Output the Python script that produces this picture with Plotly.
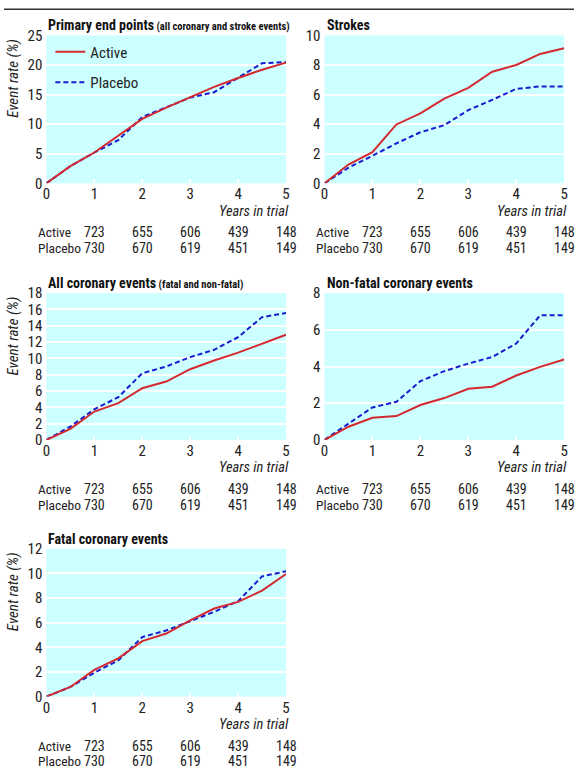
import plotly.graph_objects as go

W, H = 578, 772

years = [0, 0.5, 1, 1.5, 2, 2.5, 3, 3.5, 4, 4.5, 5]

primary_active = [0, 2.9, 5.2, 8.0, 10.9, 12.8, 14.6, 16.3, 17.8, 19.2, 20.4]
primary_placebo = [0, 2.9, 5.2, 7.3, 11.2, 12.8, 14.5, 15.4, 17.9, 20.3, 20.5]

stroke_active = [0, 1.27, 2.1, 3.98, 4.73, 5.73, 6.45, 7.55, 8.0, 8.75, 9.14]
stroke_placebo = [0, 1.05, 1.86, 2.7, 3.45, 3.93, 4.95, 5.64, 6.39, 6.55, 6.55]

allcor_active = [0, 1.35, 3.48, 4.5, 6.34, 7.16, 8.67, 9.74, 10.7, 11.8, 12.9]
allcor_placebo = [0, 1.64, 3.76, 5.24, 8.18, 9.0, 10.15, 11.05, 12.6, 15.06, 15.55]

nonfatal_active = [0, 0.72, 1.21, 1.3, 1.9, 2.28, 2.79, 2.9, 3.51, 3.98, 4.38]
nonfatal_placebo = [0, 0.9, 1.77, 2.08, 3.2, 3.75, 4.16, 4.52, 5.25, 6.79, 6.79]

fatal_active = [0, 0.78, 2.16, 3.1, 4.5, 5.12, 6.18, 7.15, 7.69, 8.6, 9.95]
fatal_placebo = [0, 0.78, 1.94, 2.94, 4.83, 5.37, 6.12, 6.88, 7.74, 9.76, 10.17]

risk_years = [1, 2, 3, 4, 5]
active_n = [723, 655, 606, 439, 148]
placebo_n = [730, 670, 619, 451, 149]

x_ticks = [0, 1, 2, 3, 4, 5]

FONT = "Roboto Condensed, Liberation Sans Narrow, DejaVu Sans, sans-serif"
RED = "#d42a2f"
BLUE = "#1a1ad0"
BG = "#ccffff"

def F(size, color="#222"):
    return dict(family=FONT, size=size, color=color)

panels = [
    ("Primary end points", " (all coronary and stroke events)", primary_active, primary_placebo, 25, 5, (43, 286, 35, 183), True),
    ("Strokes", "", stroke_active, stroke_placebo, 10, 2, (325, 568, 35, 183), False),
    ("All coronary events", " (fatal and non-fatal)", allcor_active, allcor_placebo, 18, 2, (43, 286, 293, 440), True),
    ("Non-fatal coronary events", "", nonfatal_active, nonfatal_placebo, 8, 2, (325, 568, 293, 440), False),
    ("Fatal coronary events", "", fatal_active, fatal_placebo, 12, 2, (43, 286, 549, 697), True),
]

fig = go.Figure()
annotations = []
layout = {}

# the photographed page shows the figure with a small vertical inset; map target pixel rows accordingly
VOFF, VSCALE = 8.5, 0.978

def px(x):
    return x / W

def py(y):
    ys = (y - VOFF) / VSCALE
    ys = min(max(ys, 0.3), H - 0.3)
    return 1 - ys / H

for i, (title, sub, act, plc, ymax, ystep, (x0, x1, y0, y1), ytitle) in enumerate(panels):
    n = "" if i == 0 else str(i + 1)
    xa, ya = "x" + n, "y" + n
    fig.add_trace(go.Scatter(x=years, y=plc, mode="lines", name="Placebo", legendgroup="p",
                             line=dict(color=BLUE, width=2, dash="5px,3px"),
                             xaxis=xa, yaxis=ya, showlegend=(i == 0), legendrank=2))
    fig.add_trace(go.Scatter(x=years, y=act, mode="lines", name="Active", legendgroup="a",
                             line=dict(color=RED, width=2),
                             xaxis=xa, yaxis=ya, showlegend=(i == 0), legendrank=1))
    layout["xaxis" + n] = dict(domain=[px(x0), px(x1)], range=[0, 5], anchor=ya,
                               tickvals=x_ticks, ticks="inside", tickcolor="white", ticklen=4,
                               tickwidth=2, showgrid=False, zeroline=False, showline=False,
                               tickfont=F(15), fixedrange=True)
    layout["yaxis" + n] = dict(domain=[py(y1), py(y0)], range=[0, ymax], anchor=xa,
                               dtick=ystep, tick0=0, showgrid=True, gridcolor="white", gridwidth=2,
                               zeroline=False, showline=False, ticks="", ticklabelstandoff=3,
                               tickfont=F(15), fixedrange=True)
    txt = "<b>" + title + "</b>"
    if sub:
        txt += "<b><span style='font-size:10.5px'>" + sub + "</span></b>"
    annotations.append(dict(text=txt, xref="paper", yref="paper", x=px(x0), y=py(y0 - 10),
                            xanchor="left", yanchor="middle", showarrow=False,
                            font=F(14, "#111")))
    annotations.append(dict(text="<i>Years in trial</i>", xref="paper", yref="paper",
                            x=px(x1 + 5), y=py(y1 + 28), xanchor="right", yanchor="middle",
                            showarrow=False, font=F(14.5)))
    if ytitle:
        annotations.append(dict(text="<i>Event rate (%)</i>", xref="paper", yref="paper",
                                x=px(9), y=py(y0 + 1), xanchor="center", yanchor="top",
                                textangle=-90, showarrow=False, font=F(15)))
    lx = x0 - 11
    for lab, vals, dy in (("Active", active_n, 49), ("Placebo", placebo_n, 65)):
        annotations.append(dict(text=lab, xref="paper", yref="paper", x=px(lx), y=py(y1 + dy),
                                xanchor="left", yanchor="middle", showarrow=False, font=F(13.5)))
        for yr, v in zip(risk_years, vals):
            annotations.append(dict(text=str(v), xref=xa, yref="paper", x=yr, y=py(y1 + dy),
                                    xanchor="center", yanchor="middle", showarrow=False,
                                    font=F(14)))

fig.update_layout(
    width=W, height=H, margin=dict(l=0, r=0, t=0, b=0),
    paper_bgcolor="white", plot_bgcolor=BG,
    annotations=annotations,
    shapes=[dict(type="line", xref="paper", yref="paper", x0=0, x1=1, y0=py(1.5), y1=py(1.5),
                 line=dict(color="#333", width=1.5))],
    legend=dict(x=px(47), y=py(35), xanchor="left", yanchor="top", bgcolor="rgba(0,0,0,0)",
                font=F(15), tracegroupgap=8, itemwidth=30),
    showlegend=True,
    **layout,
)

post = (
    "var s=document.createElement('style');"
    "s.textContent='html,body{margin:0 !important;padding:0 !important;overflow:hidden;"
    "width:%dpx;height:%dpx;} text{font-stretch:condensed !important;}';"
    "document.head.appendChild(s);"
    "var gd=document.getElementById('{plot_id}');"
    "Plotly.relayout(gd,{width:%d});" % (W, H, W)
)
fig.write_html("out.html", post_script=post, config={"displayModeBar": False})
